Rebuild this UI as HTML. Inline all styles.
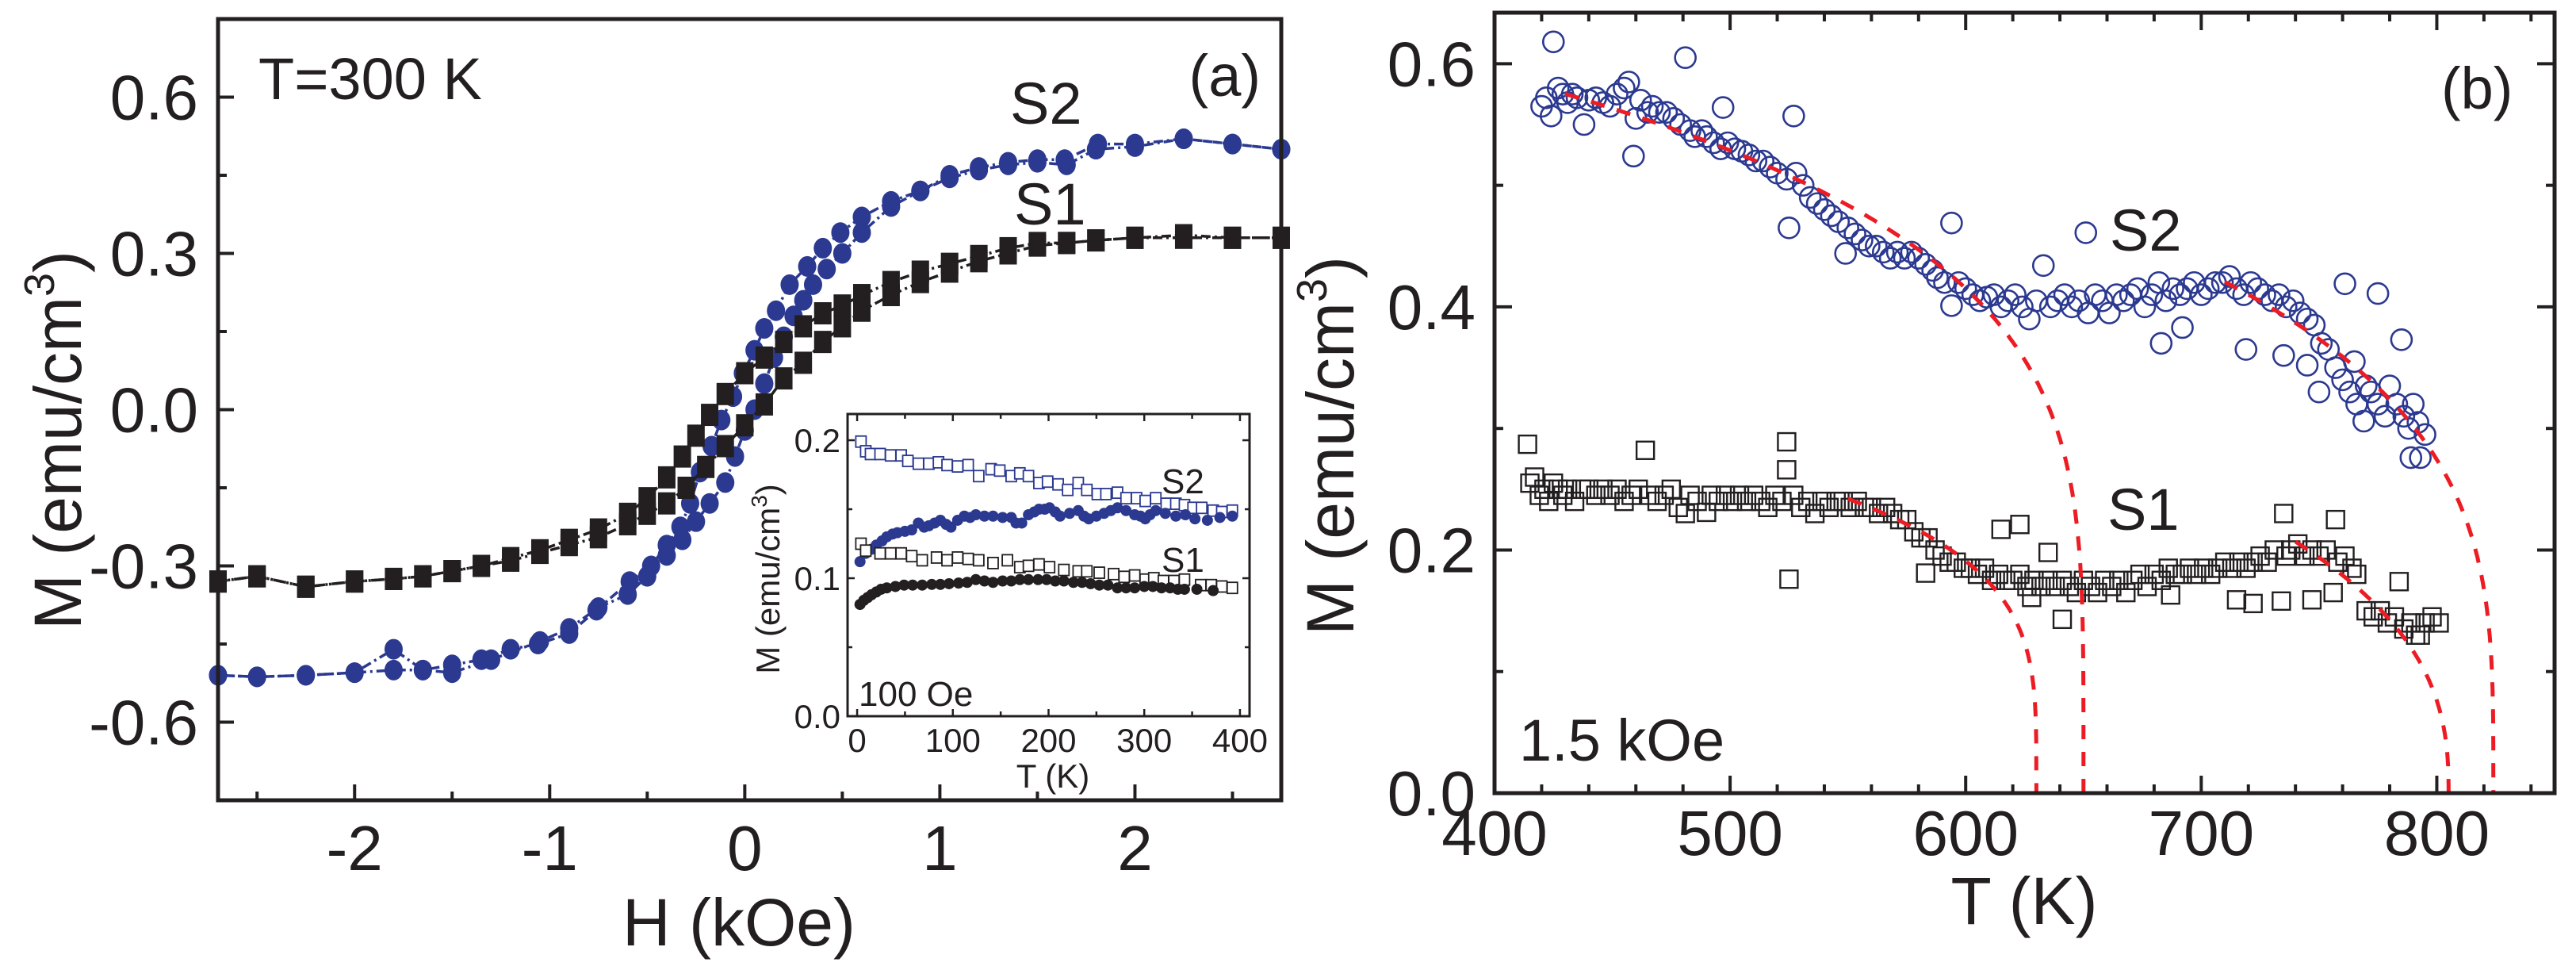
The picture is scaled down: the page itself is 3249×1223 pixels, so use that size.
<!DOCTYPE html>
<html><head><meta charset="utf-8">
<style>
html,body{margin:0;padding:0;background:#fff;}
svg{display:block;font-family:"Liberation Sans",Arial,sans-serif;}
</style></head>
<body>
<svg id="fig" width="3249" height="1223" viewBox="0 0 3249 1223" xmlns="http://www.w3.org/2000/svg">
<g id="marks"></g>
<!-- frames -->
<rect x="275" y="24" width="1341" height="985" fill="none" stroke="#231f20" stroke-width="5"/>
<rect x="1885" y="16" width="1337" height="984" fill="none" stroke="#231f20" stroke-width="5"/>
<g id="axes"></g>
<!-- texts panel a -->
<text x="326" y="125" font-size="74" fill="#231f20">T=300 K</text>
<text x="1590" y="121" font-size="74" text-anchor="end" fill="#231f20">(a)</text>
<text x="1274" y="156" font-size="74" fill="#231f20">S2</text>
<text x="1279" y="283" font-size="74" fill="#231f20">S1</text>
<text x="932" y="1192" font-size="84" text-anchor="middle" fill="#231f20">H (kOe)</text>
<text transform="translate(102,555) rotate(-90)" font-size="84" text-anchor="middle" fill="#231f20">M (emu/cm<tspan font-size="54" dy="-34">3</tspan><tspan dy="34">)</tspan></text>
<!-- inset texts -->
<text x="1465" y="622" font-size="44" fill="#231f20">S2</text>
<text x="1465" y="721" font-size="44" fill="#231f20">S1</text>
<text x="1083" y="890" font-size="44" fill="#231f20">100 Oe</text>
<text x="1328" y="993" font-size="42" text-anchor="middle" fill="#231f20">T (K)</text>
<text transform="translate(983,730) rotate(-90)" font-size="42" text-anchor="middle" fill="#231f20">M (emu/cm<tspan font-size="28" dy="-16">3</tspan><tspan dy="16">)</tspan></text>
<!-- texts panel b -->
<text x="3079" y="137" font-size="74" fill="#231f20">(b)</text>
<text x="2661" y="316" font-size="74" fill="#231f20">S2</text>
<text x="2658" y="668" font-size="74" fill="#231f20">S1</text>
<text x="1916" y="959" font-size="74" fill="#231f20">1.5 kOe</text>
<text x="2553" y="1165" font-size="84" text-anchor="middle" fill="#231f20">T (K)</text>
<text transform="translate(1707,562) rotate(-90)" font-size="84" text-anchor="middle" fill="#231f20">M (emu/cm<tspan font-size="54" dy="-34">3</tspan><tspan dy="34">)</tspan></text>
</svg>
<script>
// ---- Panel (a) hysteresis data ----
const s2UpH = [2.75,2.5,2.25,2.0,1.81,1.64,1.5,1.35,1.2,1.05,0.9,0.75,0.6,0.49,0.4,0.32,0.23,0.16,0.1,0.05,-0.01,-0.06,-0.12,-0.17,-0.23,-0.28,-0.33,-0.4,-0.48,-0.59,-0.76,-0.9,-1.06,-1.2,-1.35,-1.5,-1.65,-1.8,-2.0,-2.25,-2.5,-2.7];
const s2UpM = [0.50,0.51,0.52,0.51,0.51,0.48,0.48,0.475,0.465,0.45,0.42,0.40,0.37,0.34,0.31,0.275,0.24,0.19,0.156,0.114,0.07,0.025,-0.02,-0.07,-0.12,-0.18,-0.225,-0.26,-0.30,-0.33,-0.385,-0.43,-0.45,-0.46,-0.48,-0.49,-0.50,-0.46,-0.505,-0.51,-0.513,-0.51];
const s2DnH = [-2.7,-2.5,-2.25,-2.0,-1.8,-1.65,-1.5,-1.3,-1.05,-0.9,-0.75,-0.6,-0.5,-0.4,-0.32,-0.25,-0.18,-0.1,-0.05,0.0,0.05,0.1,0.15,0.2,0.25,0.3,0.35,0.42,0.5,0.6,0.75,0.9,1.05,1.2,1.35,1.5,1.65,1.8,2.0,2.25,2.5,2.75];
const s2DnM = [-0.51,-0.513,-0.51,-0.505,-0.50,-0.50,-0.505,-0.48,-0.445,-0.42,-0.38,-0.355,-0.32,-0.28,-0.25,-0.215,-0.18,-0.14,-0.09,-0.04,0.0,0.05,0.10,0.14,0.18,0.21,0.24,0.27,0.30,0.34,0.39,0.42,0.445,0.46,0.47,0.475,0.47,0.50,0.505,0.52,0.51,0.50];
const s1UpH = [2.75,2.5,2.25,2.0,1.8,1.65,1.5,1.35,1.2,1.05,0.9,0.75,0.6,0.5,0.4,0.3,0.2,0.1,0.0,-0.1,-0.18,-0.25,-0.32,-0.4,-0.5,-0.6,-0.75,-0.9,-1.05,-1.2,-1.35,-1.5,-1.65,-1.8,-2.0,-2.25,-2.5,-2.7];
const s1UpM = [0.33,0.33,0.33,0.33,0.325,0.32,0.32,0.31,0.295,0.28,0.265,0.245,0.22,0.20,0.185,0.16,0.13,0.10,0.07,0.03,-0.01,-0.05,-0.09,-0.13,-0.17,-0.20,-0.23,-0.25,-0.27,-0.285,-0.30,-0.31,-0.32,-0.325,-0.33,-0.34,-0.32,-0.33];
const s1DnH = [-2.7,-2.5,-2.25,-2.0,-1.8,-1.65,-1.5,-1.35,-1.2,-1.05,-0.9,-0.75,-0.6,-0.5,-0.4,-0.3,-0.2,-0.1,0.0,0.1,0.2,0.3,0.4,0.5,0.6,0.75,0.9,1.05,1.2,1.35,1.5,1.65,1.8,2.0,2.25,2.5,2.75];
const s1DnM = [-0.33,-0.32,-0.34,-0.33,-0.325,-0.32,-0.31,-0.30,-0.29,-0.275,-0.26,-0.245,-0.22,-0.20,-0.18,-0.15,-0.11,-0.07,-0.03,0.01,0.06,0.09,0.13,0.16,0.19,0.22,0.245,0.265,0.285,0.30,0.315,0.32,0.325,0.33,0.335,0.33,0.33];
const aXTicks = [-2,-1,0,1,2];
const aXTickLabels = ["-2","-1","0","1","2"];
const aYTicks = [-0.6,-0.3,0.0,0.3,0.6];
const aYTickLabels = ["-0.6","-0.3","0.0","0.3","0.6"];

// ---- Inset data ----
const inS2openT = [4,9,14,24,35,46,53,64,75,85,94,105,116,127,140,149,161,170,179,190,199,210,220,231,240,251,260,272,281,292,301,312,323,333,342,351,360,372,381,392];
const inS2openM = [0.199,0.192,0.19,0.19,0.189,0.189,0.185,0.183,0.183,0.184,0.182,0.181,0.182,0.174,0.179,0.178,0.174,0.176,0.174,0.169,0.17,0.168,0.164,0.169,0.164,0.161,0.161,0.162,0.158,0.158,0.156,0.158,0.154,0.154,0.153,0.151,0.151,0.149,0.148,0.149];
const inS2fillT = [3,9,15,20,26,31,37,42,50,57,64,70,75,81,87,93,98,105,112,118,124,133,142,152,161,166,172,179,185,190,196,201,207,212,222,231,237,242,250,258,265,272,281,290,296,301,306,312,322,333,343,353,366,379,392];
const inS2fillM = [0.112,0.118,0.121,0.124,0.127,0.130,0.132,0.133,0.134,0.135,0.140,0.137,0.138,0.140,0.142,0.139,0.137,0.142,0.145,0.144,0.146,0.145,0.145,0.144,0.144,0.140,0.140,0.146,0.148,0.150,0.150,0.151,0.148,0.145,0.147,0.149,0.145,0.143,0.145,0.147,0.149,0.151,0.149,0.146,0.145,0.143,0.146,0.149,0.147,0.145,0.146,0.143,0.142,0.144,0.145];
const inS1openT = [4,9,24,35,46,57,68,83,94,105,116,127,142,157,170,179,190,201,216,231,240,253,268,279,290,301,310,320,331,342,359,370,381,392];
const inS1openM = [0.125,0.12,0.118,0.118,0.118,0.116,0.113,0.115,0.113,0.115,0.114,0.113,0.111,0.113,0.108,0.109,0.11,0.108,0.106,0.105,0.105,0.104,0.103,0.101,0.102,0.099,0.100,0.098,0.098,0.099,0.095,0.095,0.094,0.093];
const inS1fillT = [3,7,11,15,20,25,31,40,49,58,68,78,87,96,106,115,124,133,142,152,161,170,179,189,198,207,216,226,235,244,253,262,272,281,290,300,309,318,327,335,342,355,372];
const inS1fillM = [0.081,0.084,0.086,0.088,0.090,0.092,0.093,0.094,0.095,0.095,0.095,0.0955,0.0955,0.096,0.0965,0.097,0.099,0.098,0.097,0.098,0.098,0.099,0.099,0.099,0.099,0.098,0.098,0.097,0.097,0.096,0.095,0.095,0.093,0.093,0.093,0.094,0.094,0.093,0.093,0.092,0.092,0.092,0.091];
const inXTicks = [0,100,200,300,400];
const inXTickLabels = ["0","100","200","300","400"];
const inYTicks = [0.0,0.1,0.2];
const inYTickLabels = ["0.0","0.1","0.2"];

// ---- Panel (b) data ----
const bS2T = [420,422,424,425,427,429,431,433,435,438,440,443,446,449,452,455,457,459,460,462,465,467,470,473,476,479,481,483,485,488,490,493,496,497,499,502,505,508,511,514,517,520,524,525,527,528,531,534,537,540,543,546,549,550,553,556,559,562,565,568,571,574,577,580,583,586,588,591,594,594,597,600,603,606,609,612,615,618,621,624,627,630,633,636,639,642,645,648,651,652,655,658,661,664,667,670,673,676,679,682,683,685,688,691,692,694,697,700,703,706,709,712,715,718,719,721,724,727,730,733,735,736,739,742,745,745,748,750,751,754,757,760,761,763,765,766,769,770,772,775,775,778,780,783,785,786,788,789,790,792,793,795];
const bS2M = [0.565,0.572,0.557,0.618,0.58,0.575,0.568,0.575,0.572,0.55,0.57,0.572,0.568,0.565,0.575,0.58,0.585,0.524,0.555,0.57,0.56,0.565,0.56,0.56,0.555,0.55,0.605,0.545,0.54,0.545,0.54,0.535,0.53,0.564,0.535,0.53,0.528,0.525,0.52,0.52,0.515,0.51,0.505,0.465,0.557,0.51,0.5,0.49,0.485,0.48,0.475,0.47,0.444,0.465,0.46,0.455,0.45,0.45,0.445,0.44,0.445,0.44,0.445,0.44,0.435,0.43,0.424,0.42,0.469,0.401,0.42,0.415,0.41,0.405,0.408,0.41,0.4,0.405,0.41,0.4,0.39,0.405,0.434,0.4,0.405,0.41,0.4,0.405,0.461,0.395,0.41,0.405,0.395,0.41,0.405,0.41,0.415,0.4,0.41,0.42,0.37,0.405,0.415,0.41,0.383,0.415,0.42,0.41,0.415,0.42,0.42,0.425,0.415,0.41,0.365,0.42,0.415,0.41,0.405,0.41,0.36,0.40,0.405,0.395,0.352,0.39,0.385,0.33,0.37,0.365,0.35,0.34,0.419,0.33,0.355,0.32,0.306,0.335,0.33,0.411,0.32,0.31,0.335,0.32,0.373,0.31,0.3,0.276,0.32,0.305,0.276,0.295];
const bS1T = [414,415,417,419,421,423,425,427,429,431,434,437,440,443,446,449,452,455,458,461,464,466,469,472,475,478,481,483,486,490,492,495,498,501,504,507,510,513,516,519,522,524,524,525,527,530,533,536,539,542,545,548,551,554,557,560,563,566,569,572,575,578,581,583,584,587,590,593,596,599,602,605,608,611,614,615,617,620,623,623,626,628,629,632,635,635,638,641,641,644,647,650,653,656,659,662,665,668,671,674,677,680,683,686,687,689,692,695,698,701,704,707,710,713,715,716,719,722,722,725,728,731,734,735,736,738,741,744,747,747,750,753,756,757,758,761,764,766,770,773,776,779,782,784,786,789,791,793,795,798,801];
const bS1M = [0.287,0.255,0.26,0.245,0.25,0.24,0.255,0.25,0.245,0.25,0.24,0.25,0.25,0.245,0.25,0.245,0.25,0.24,0.245,0.25,0.282,0.245,0.24,0.245,0.25,0.235,0.23,0.245,0.24,0.231,0.245,0.24,0.245,0.24,0.245,0.24,0.245,0.24,0.235,0.245,0.24,0.289,0.266,0.176,0.245,0.235,0.24,0.23,0.24,0.235,0.24,0.24,0.235,0.24,0.235,0.235,0.23,0.235,0.23,0.225,0.225,0.215,0.21,0.181,0.21,0.2,0.195,0.19,0.19,0.185,0.185,0.18,0.185,0.175,0.18,0.217,0.175,0.175,0.221,0.18,0.17,0.161,0.175,0.17,0.198,0.175,0.17,0.143,0.175,0.17,0.165,0.175,0.17,0.165,0.175,0.17,0.175,0.165,0.175,0.18,0.17,0.18,0.175,0.185,0.163,0.18,0.18,0.185,0.18,0.185,0.18,0.185,0.19,0.185,0.159,0.19,0.185,0.156,0.19,0.195,0.19,0.2,0.158,0.23,0.195,0.2,0.205,0.195,0.159,0.2,0.195,0.2,0.165,0.225,0.19,0.195,0.185,0.18,0.15,0.145,0.15,0.14,0.145,0.174,0.135,0.14,0.13,0.13,0.14,0.145,0.14];
// fit curves M = A (1 - T/Tc)^beta
const fitStart = [430,710,550,740];
const fitTc = [650,824,630,805];
const fitA = [0.73,0.723,0.399,0.552];
const fitBeta = [0.22,0.274,0.242,0.39];
const bXTicks = [400,500,600,700,800];
const bXTickLabels = ["400","500","600","700","800"];
const bYTicks = [0.0,0.2,0.4,0.6];
const bYTickLabels = ["0.0","0.2","0.4","0.6"];

const NS = "http://www.w3.org/2000/svg";
const BLUE = "#2b3990", BLACK = "#231f20", RED = "#ed1c24";
const marks = document.getElementById('marks');
const axes = document.getElementById('axes');
function mk(tag, attrs, parent){ const e=document.createElementNS(NS,tag); for(const k in attrs) e.setAttribute(k,attrs[k]); (parent||marks).appendChild(e); return e; }

// axis functions
const ax = h => 275 + (h + 2.7) / 5.45 * 1341;
const ay = m => 24 + (0.75 - m) / 1.5 * 985;
const ix = t => 1069 + (t + 10) / 420 * 507;
const iy = m => 903 - m / 0.219 * 381;
const bx = t => 1885 + (t - 400) / 450 * 1337;
const by = m => 1000 - m / 0.642 * 984;

// ---- panel (a) ----
function branch(H, M, color, kind, name){
  let d = H.map((h,i)=>(i?'L':'M')+ax(h).toFixed(1)+' '+ay(M[i]).toFixed(1)).join(' ');
  const p = mk('path',{d:d,fill:'none',stroke:color,'stroke-width':3.5,'stroke-dasharray':'12 5 3 5'});
  
  
  H.forEach((h,i)=>{
    let e;
    if(kind==='circle') e = mk('ellipse',{cx:ax(h),cy:ay(M[i]),rx:11.5,ry:13,fill:color});
    else e = mk('rect',{x:ax(h)-11,y:ay(M[i])-14,width:22,height:28,fill:color});
    
    
  });
}
branch(s2UpH,s2UpM,BLUE,'circle','s2-loop-descending');
branch(s2DnH,s2DnM,BLUE,'circle','s2-loop-ascending');
branch(s1UpH,s1UpM,BLACK,'square','s1-loop-descending');
branch(s1DnH,s1DnM,BLACK,'square','s1-loop-ascending');

// panel a ticks
function line(x1,y1,x2,y2,w,name){ const l=mk('line',{x1,y1,x2,y2,stroke:BLACK,'stroke-width':w},axes);   return l; }
function txt(x,y,s,size,anchor,name){ const t=mk('text',{x,y,'font-size':size,'text-anchor':anchor,fill:BLACK},axes); t.textContent=s;   return t; }
for(let h=-2.5; h<=2.51; h+=0.5){ const major=Math.abs(h-Math.round(h))<1e-6; line(ax(h),1009,ax(h),1009-(major?20:11),4,'x-tick-a'); }
aXTicks.forEach((h,i)=>txt(ax(h),1097,aXTickLabels[i],80,'middle','x-tick-label-a'));
for(let m=-0.75; m<=0.751; m+=0.15){ const major=Math.abs(m/0.3-Math.round(m/0.3))<1e-6; line(275,ay(m),275+(major?20:11),ay(m),4,'y-tick-a'); }
aYTicks.forEach((m,i)=>txt(250,ay(m)+28,aYTickLabels[i],80,'end','y-tick-label-a'));

// ---- inset ----
const inBg = mk('rect',{x:1069,y:522,width:507,height:381,fill:'#fff',stroke:BLACK,'stroke-width':3},axes);


for(let t=0;t<=400;t+=50){ const L=(t%100===0)?9:6; line(ix(t),903,ix(t),903-L,2.5,'inset-x-tick'); line(ix(t),522,ix(t),522+L,2.5,'inset-x-tick-top'); }
for(let m=0.05;m<=0.2001;m+=0.05){ const L=(Math.abs(m*10-Math.round(m*10))<1e-6)?9:6; line(1069,iy(m),1069+L,iy(m),2.5,'inset-y-tick'); line(1576,iy(m),1576-L,iy(m),2.5,'inset-y-tick-right'); }
inXTicks.forEach((t,i)=>txt(ix(t),948,inXTickLabels[i],42,'middle','inset-x-tick-label'));
inYTicks.forEach((m,i)=>txt(1060,iy(m)+15,inYTickLabels[i],42,'end','inset-y-tick-label'));
function inSeries(T,M,color,open,name){
  T.forEach((t,i)=>{
    let e;
    if(open) e = mk('rect',{x:ix(t)-6.5,y:iy(M[i])-7,width:13,height:14,fill:'#fff',stroke:color,'stroke-width':1.8},axes);
    else e = mk('circle',{cx:ix(t),cy:iy(M[i]),r:7,fill:color},axes);
    
    
  });
}
inSeries(inS2openT,inS2openM,BLUE,true,'inset-s2-fc-point');
inSeries(inS2fillT,inS2fillM,BLUE,false,'inset-s2-zfc-point');
inSeries(inS1openT,inS1openM,BLACK,true,'inset-s1-fc-point');
inSeries(inS1fillT,inS1fillM,BLACK,false,'inset-s1-zfc-point');

// ---- panel (b) ----
bS2T.forEach((t,i)=>{
  const c = mk('circle',{cx:bx(t),cy:by(bS2M[i]),r:13,fill:'none',stroke:BLUE,'stroke-width':2.6});
  
  
});
bS1T.forEach((t,i)=>{
  const r = mk('rect',{x:bx(t)-11,y:by(bS1M[i])-11,width:22,height:22,fill:'none',stroke:BLACK,'stroke-width':2.4});
  
  
});
fitTc.forEach((tc,k)=>{
  let d='';
  const steps=200;
  for(let s=0;s<=steps;s++){
    const t = fitStart[k] + (tc-fitStart[k])*(1-Math.pow(1-s/steps,2.2));
    const m = fitA[k]*Math.pow(Math.max(0,1-t/tc),fitBeta[k]);
    d += (s?'L':'M')+bx(t).toFixed(1)+' '+by(m).toFixed(1)+' ';
  }
  const p = mk('path',{d:d,fill:'none',stroke:RED,'stroke-width':5,'stroke-dasharray':'18 16'});
  
  
});
for(let t=400;t<=850;t+=20){ const major=t%100===0; line(bx(t),1000,bx(t),1000-(major?22:11),4,'x-tick-b'); line(bx(t),16,bx(t),16+(major?22:11),4,'x-tick-b-top'); }
bXTicks.forEach((t,i)=>txt(bx(t),1078,bXTickLabels[i],80,'middle','x-tick-label-b'));
for(let m=0.1;m<=0.6001;m+=0.1){ const major=Math.abs(m*5-Math.round(m*5))<1e-6; line(1885,by(m),1885+(major?22:11),by(m),4,'y-tick-b'); line(3222,by(m),3222-(major?22:11),by(m),4,'y-tick-b-right'); }
bYTicks.forEach((m,i)=>txt(1861,by(m)+28,bYTickLabels[i],80,'end','y-tick-label-b'));
</script>
</body></html>
